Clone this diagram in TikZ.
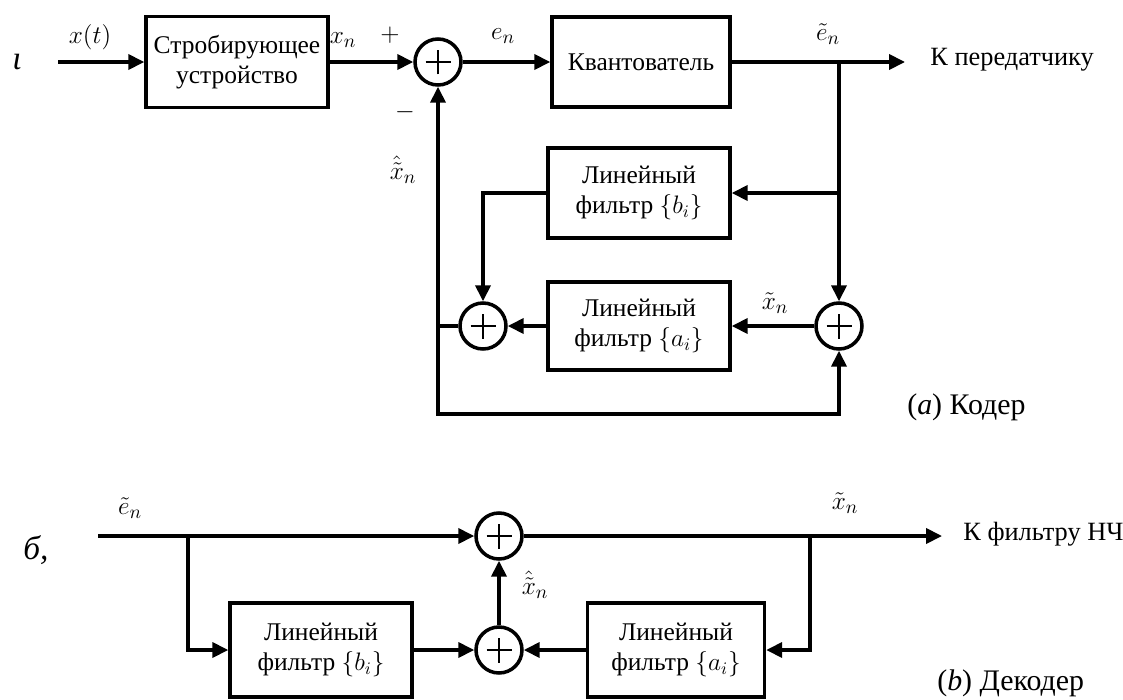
\documentclass[tikz,border=0pt]{standalone}
\usepackage{fontspec}
\setmainfont{Liberation Serif}
\usetikzlibrary{arrows.meta,calc}
\tikzset{
  blk/.style={draw, line width=2pt, inner sep=0pt, align=center, font=\fontsize{14.5}{17}\selectfont},
  sumnode/.style={circle, draw, line width=2pt, inner sep=0pt, minimum size=0.92cm,
    path picture={\draw[line width=1.5pt] ($(path picture bounding box.center)+(-0.25cm,0)$) -- ++(0.5cm,0)
      ($(path picture bounding box.center)+(0,-0.25cm)$) -- ++(0,0.5cm);}},
  arr/.style={line width=2pt, -{Triangle[length=9pt,width=8.5pt]}},
  lbl/.style={inner sep=0pt, font=\fontsize{15}{17}\selectfont},
  captxt/.style={inner sep=0pt, font=\fontsize{17}{20}\selectfont},
}
\begin{document}
\begin{tikzpicture}[x=0.02cm, y=-0.02cm]
\useasboundingbox (0,0) rectangle (1123,700);
% ---------------- encoder ----------------
\coordinate (in) at (58,62);
\node[blk, minimum width=3.64cm, minimum height=1.82cm] (samp) at (237,62) {Стробирующее\\устройство};
\node[sumnode] (s1) at (438,62) {};
\node[blk, minimum width=3.56cm, minimum height=1.80cm] (quant) at (641,62) {Квантователь};
\coordinate (j1) at (839,62);
\coordinate (out) at (905,62);
\node[blk, minimum width=3.64cm, minimum height=1.80cm] (fb) at (639,193) {Линейный\\фильтр $\{b_i\}$};
\node[blk, minimum width=3.64cm, minimum height=1.76cm] (fa) at (639,326) {Линейный\\фильтр $\{a_i\}$};
\node[sumnode] (s3) at (483,326) {};
\node[sumnode] (s2) at (839,326) {};
\coordinate (j2) at (839,193);
\coordinate (c1) at (438,326);
\coordinate (bl) at (438,414);

\draw[arr] (in) -- (samp.west);
\draw[arr] (samp.east) -- (s1.west);
\draw[arr] (s1.east) -- (quant.west);
\draw[arr] (quant.east) -- (out);
\draw[arr] (j1) -- (s2.north);
\draw[arr] (j2) -- (fb.east);
\draw[arr] (fb.west) -| (s3.north);
\draw[arr] (s2.west) -- (fa.east);
\draw[arr] (fa.west) -- (s3.east);
\draw[arr] (s3.west) -- (c1) -- (s1.south);
\draw[arr] (c1) -- (bl) -| (s2.south);

\node[lbl] (lxt) at (90,37) {$x(t)$};
\node[lbl] (lxn) at (343,40) {$x_n$};
\node[lbl] (lplus) at (390,35) {$+$};
\node[lbl] (lminus) at (405,112) {$-$};
\node[lbl] (len) at (503,36) {$e_n$};
\node[lbl] (let) at (828,34) {$\tilde{e}_n$};
\node[lbl, anchor=west] (ltx) at (930,60) {К передатчику};
\node[lbl] (lxh) at (403,170) {$\hat{\tilde{x}}_n$};
\node[lbl] (lxtn) at (775,303) {$\tilde{x}_n$};
\node[captxt, anchor=west] (capa) at (907,407) {(\textit{a}) Кодер};
\node[inner sep=0pt, font=\fontsize{19}{22}\selectfont\itshape] (marka) at (17,62) {ι};

% ---------------- decoder ----------------
\coordinate (in2) at (98,536);
\coordinate (b1) at (188,536);
\node[sumnode] (ds1) at (499,536) {};
\node[sumnode] (ds2) at (499,650) {};
\node[blk, minimum width=3.64cm, minimum height=1.88cm] (dfb) at (321,650) {Линейный\\фильтр $\{b_i\}$};
\node[blk, minimum width=3.54cm, minimum height=1.88cm] (dfa) at (676,650) {Линейный\\фильтр $\{a_i\}$};
\coordinate (j3) at (810,536);
\coordinate (out2) at (942,536);

\draw[arr] (in2) -- (ds1.west);
\draw[arr] (b1) |- (dfb.west);
\draw[arr] (dfb.east) -- (ds2.west);
\draw[arr] (dfa.west) -- (ds2.east);
\draw[arr] (ds2.north) -- (ds1.south);
\draw[arr] (ds1.east) -- (out2);
\draw[arr] (j3) |- (dfa.east);

\node[lbl] (dlet) at (130,508) {$\tilde{e}_n$};
\node[lbl] (dlxh) at (535,585) {$\hat{\tilde{x}}_n$};
\node[lbl] (dlxt) at (845,503) {$\tilde{x}_n$};
\node[lbl, anchor=west] (dout) at (963,534) {К фильтру НЧ};
\node[captxt, anchor=west] (capb) at (937,683) {(\textit{b}) Декодер};
\node[inner sep=0pt, font=\fontsize{19}{22}\selectfont\itshape] (markb) at (36,550) {б,};
\end{tikzpicture}
\end{document}
